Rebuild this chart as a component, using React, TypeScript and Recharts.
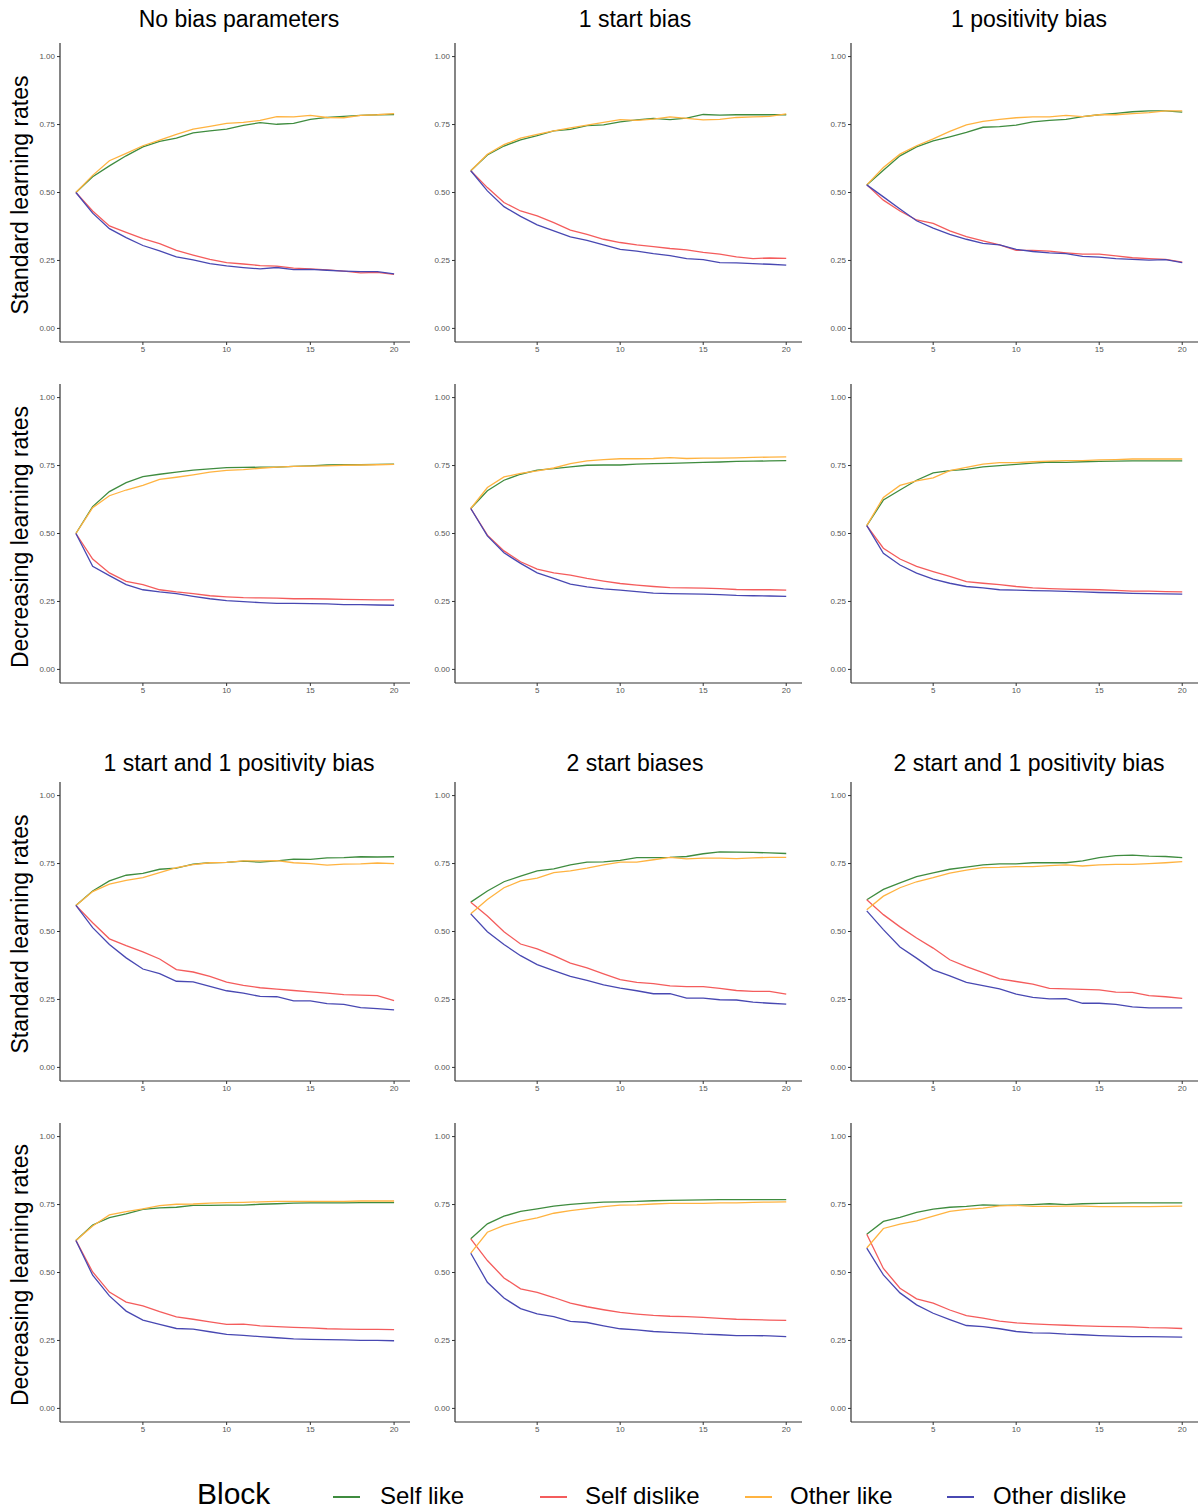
import React from "react";
import { LineChart, Line, XAxis, YAxis } from "recharts";

const blocks = [1, 2, 3, 4, 5, 6, 7, 8, 9, 10, 11, 12, 13, 14, 15, 16, 17, 18, 19, 20];
const seriesNames = ["Self like", "Self dislike", "Other like", "Other dislike"];
const seriesKeys = ["selfLike", "selfDislike", "otherLike", "otherDislike"];
const seriesColors = ["#3f8c3f", "#f45c5c", "#ffb340", "#4848b2"];
const xTicks = [5, 10, 15, 20];
const yTicks = [0, 0.25, 0.5, 0.75, 1];
const topTitles = ["No bias parameters", "1 start bias", "1 positivity bias"];
const bottomTitles = ["1 start and 1 positivity bias", "2 start biases", "2 start and 1 positivity bias"];
const rowLabels = ["Standard learning rates", "Decreasing learning rates", "Standard learning rates", "Decreasing learning rates"];

// No bias parameters, standard
const nbStdSelfLike = [0.5, 0.558, 0.598, 0.635, 0.668, 0.688, 0.7, 0.719, 0.727, 0.733, 0.747, 0.757, 0.751, 0.754, 0.769, 0.776, 0.78, 0.784, 0.786, 0.787];
const nbStdSelfDislike = [0.5, 0.432, 0.377, 0.353, 0.33, 0.312, 0.287, 0.27, 0.254, 0.242, 0.237, 0.231, 0.229, 0.222, 0.219, 0.215, 0.211, 0.204, 0.206, 0.199];
const nbStdOtherLike = [0.5, 0.563, 0.617, 0.644, 0.672, 0.693, 0.714, 0.733, 0.743, 0.754, 0.758, 0.765, 0.779, 0.778, 0.784, 0.776, 0.775, 0.784, 0.786, 0.79];
const nbStdOtherDislike = [0.5, 0.424, 0.367, 0.334, 0.305, 0.285, 0.263, 0.252, 0.238, 0.23, 0.224, 0.219, 0.224, 0.216, 0.217, 0.214, 0.211, 0.209, 0.209, 0.201];

// 1 start bias, standard
const sbStdSelfLike = [0.58, 0.638, 0.671, 0.694, 0.709, 0.727, 0.732, 0.746, 0.749, 0.76, 0.767, 0.773, 0.768, 0.774, 0.787, 0.785, 0.786, 0.786, 0.786, 0.786];
const sbStdSelfDislike = [0.58, 0.518, 0.463, 0.432, 0.414, 0.389, 0.362, 0.346, 0.328, 0.316, 0.307, 0.301, 0.294, 0.289, 0.28, 0.273, 0.263, 0.257, 0.259, 0.258];
const sbStdOtherLike = [0.58, 0.641, 0.676, 0.7, 0.714, 0.727, 0.738, 0.748, 0.758, 0.768, 0.765, 0.77, 0.778, 0.773, 0.767, 0.769, 0.776, 0.778, 0.78, 0.789];
const sbStdOtherDislike = [0.58, 0.506, 0.448, 0.412, 0.381, 0.359, 0.337, 0.324, 0.307, 0.291, 0.284, 0.275, 0.268, 0.257, 0.253, 0.242, 0.241, 0.238, 0.236, 0.233];

// 1 positivity bias, standard
const pbStdSelfLike = [0.528, 0.582, 0.635, 0.668, 0.69, 0.705, 0.721, 0.74, 0.742, 0.748, 0.76, 0.765, 0.769, 0.779, 0.786, 0.791, 0.797, 0.8, 0.8, 0.796];
const pbStdSelfDislike = [0.528, 0.472, 0.432, 0.399, 0.386, 0.359, 0.338, 0.322, 0.307, 0.287, 0.287, 0.284, 0.278, 0.273, 0.273, 0.267, 0.26, 0.257, 0.254, 0.244];
const pbStdOtherLike = [0.528, 0.592, 0.641, 0.672, 0.697, 0.725, 0.749, 0.762, 0.769, 0.775, 0.778, 0.778, 0.784, 0.779, 0.786, 0.786, 0.79, 0.794, 0.8, 0.8];
const pbStdOtherDislike = [0.528, 0.484, 0.439, 0.396, 0.369, 0.346, 0.328, 0.313, 0.307, 0.291, 0.283, 0.278, 0.275, 0.265, 0.262, 0.257, 0.254, 0.251, 0.253, 0.242];

// No bias parameters, decreasing
const nbDecSelfLike = [0.5, 0.599, 0.654, 0.687, 0.709, 0.718, 0.726, 0.733, 0.738, 0.742, 0.743, 0.744, 0.744, 0.747, 0.749, 0.752, 0.753, 0.753, 0.754, 0.755];
const nbDecSelfDislike = [0.5, 0.406, 0.355, 0.324, 0.312, 0.293, 0.285, 0.279, 0.271, 0.267, 0.264, 0.263, 0.262, 0.26, 0.26, 0.259, 0.258, 0.257, 0.256, 0.256];
const nbDecOtherLike = [0.5, 0.595, 0.639, 0.66, 0.677, 0.699, 0.707, 0.716, 0.726, 0.732, 0.735, 0.74, 0.744, 0.747, 0.748, 0.749, 0.751, 0.752, 0.753, 0.754];
const nbDecOtherDislike = [0.5, 0.379, 0.345, 0.312, 0.293, 0.285, 0.279, 0.269, 0.26, 0.253, 0.249, 0.246, 0.243, 0.243, 0.242, 0.241, 0.238, 0.238, 0.237, 0.236];

// 1 start bias, decreasing
const sbDecSelfLike = [0.592, 0.657, 0.696, 0.718, 0.733, 0.739, 0.745, 0.751, 0.752, 0.752, 0.755, 0.757, 0.758, 0.76, 0.762, 0.763, 0.765, 0.766, 0.767, 0.768];
const sbDecSelfDislike = [0.592, 0.494, 0.436, 0.396, 0.369, 0.355, 0.347, 0.335, 0.325, 0.316, 0.31, 0.305, 0.301, 0.3, 0.299, 0.297, 0.294, 0.293, 0.293, 0.292];
const sbDecOtherLike = [0.592, 0.669, 0.708, 0.721, 0.73, 0.741, 0.757, 0.767, 0.772, 0.775, 0.775, 0.776, 0.779, 0.776, 0.777, 0.777, 0.778, 0.78, 0.781, 0.782];
const sbDecOtherDislike = [0.592, 0.491, 0.429, 0.39, 0.355, 0.335, 0.314, 0.304, 0.296, 0.292, 0.286, 0.281, 0.279, 0.278, 0.277, 0.275, 0.272, 0.271, 0.27, 0.269];

// 1 positivity bias, decreasing
const pbDecSelfLike = [0.529, 0.623, 0.66, 0.696, 0.723, 0.731, 0.736, 0.745, 0.75, 0.754, 0.759, 0.763, 0.762, 0.764, 0.765, 0.766, 0.767, 0.767, 0.767, 0.767];
const pbDecSelfDislike = [0.529, 0.446, 0.406, 0.379, 0.36, 0.342, 0.323, 0.317, 0.312, 0.305, 0.3, 0.297, 0.295, 0.294, 0.293, 0.291, 0.288, 0.288, 0.286, 0.285];
const pbDecOtherLike = [0.529, 0.633, 0.677, 0.694, 0.705, 0.731, 0.743, 0.755, 0.761, 0.761, 0.764, 0.766, 0.768, 0.768, 0.771, 0.772, 0.774, 0.774, 0.774, 0.774];
const pbDecOtherDislike = [0.529, 0.427, 0.384, 0.354, 0.332, 0.317, 0.305, 0.3, 0.293, 0.292, 0.29, 0.289, 0.287, 0.285, 0.283, 0.282, 0.28, 0.279, 0.278, 0.277];

// 1 start and 1 positivity bias, standard
const spStdSelfLike = [0.596, 0.649, 0.686, 0.707, 0.714, 0.729, 0.733, 0.748, 0.753, 0.754, 0.759, 0.755, 0.76, 0.766, 0.765, 0.771, 0.772, 0.775, 0.774, 0.775];
const spStdSelfDislike = [0.596, 0.532, 0.473, 0.448, 0.425, 0.399, 0.36, 0.351, 0.335, 0.314, 0.302, 0.293, 0.288, 0.283, 0.278, 0.273, 0.268, 0.266, 0.264, 0.246];
const spStdOtherLike = [0.596, 0.647, 0.674, 0.688, 0.698, 0.717, 0.735, 0.746, 0.753, 0.754, 0.76, 0.76, 0.761, 0.753, 0.75, 0.744, 0.748, 0.749, 0.752, 0.75];
const spStdOtherDislike = [0.596, 0.514, 0.452, 0.403, 0.362, 0.345, 0.317, 0.315, 0.298, 0.282, 0.273, 0.261, 0.26, 0.245, 0.245, 0.235, 0.232, 0.22, 0.216, 0.212];

// 2 start biases, standard
const s2StdSelfLike = [0.608, 0.649, 0.683, 0.704, 0.723, 0.73, 0.745, 0.755, 0.756, 0.762, 0.772, 0.772, 0.773, 0.776, 0.786, 0.793, 0.792, 0.791, 0.789, 0.787];
const s2StdSelfDislike = [0.608, 0.557, 0.499, 0.454, 0.436, 0.411, 0.384, 0.366, 0.344, 0.323, 0.313, 0.308, 0.3, 0.297, 0.297, 0.291, 0.283, 0.28, 0.28, 0.27];
const s2StdOtherLike = [0.565, 0.618, 0.661, 0.686, 0.696, 0.717, 0.723, 0.733, 0.745, 0.755, 0.755, 0.764, 0.773, 0.767, 0.77, 0.77, 0.768, 0.771, 0.773, 0.773];
const s2StdOtherDislike = [0.565, 0.499, 0.452, 0.411, 0.378, 0.356, 0.335, 0.32, 0.304, 0.292, 0.282, 0.271, 0.271, 0.255, 0.255, 0.249, 0.248, 0.24, 0.236, 0.233];

// 2 start and 1 positivity bias, standard
const s2pStdSelfLike = [0.617, 0.655, 0.679, 0.702, 0.716, 0.729, 0.737, 0.745, 0.749, 0.749, 0.753, 0.753, 0.753, 0.76, 0.772, 0.779, 0.781, 0.777, 0.776, 0.772];
const s2pStdSelfDislike = [0.617, 0.562, 0.517, 0.476, 0.439, 0.396, 0.371, 0.349, 0.326, 0.316, 0.306, 0.291, 0.289, 0.287, 0.285, 0.277, 0.276, 0.264, 0.26, 0.254];
const s2pStdOtherLike = [0.58, 0.63, 0.661, 0.683, 0.698, 0.715, 0.726, 0.735, 0.736, 0.739, 0.739, 0.742, 0.745, 0.741, 0.745, 0.747, 0.747, 0.75, 0.753, 0.757];
const s2pStdOtherDislike = [0.576, 0.507, 0.443, 0.402, 0.359, 0.337, 0.313, 0.301, 0.289, 0.27, 0.258, 0.252, 0.253, 0.236, 0.236, 0.232, 0.223, 0.219, 0.219, 0.219];

// 1 start and 1 positivity bias, decreasing
const spDecSelfLike = [0.618, 0.675, 0.702, 0.716, 0.732, 0.738, 0.74, 0.747, 0.747, 0.748, 0.748, 0.751, 0.753, 0.755, 0.756, 0.756, 0.756, 0.757, 0.757, 0.757];
const spDecSelfDislike = [0.618, 0.502, 0.428, 0.391, 0.377, 0.356, 0.337, 0.328, 0.318, 0.309, 0.31, 0.304, 0.301, 0.298, 0.296, 0.293, 0.292, 0.291, 0.291, 0.29];
const spDecOtherLike = [0.618, 0.671, 0.712, 0.724, 0.734, 0.746, 0.751, 0.752, 0.755, 0.757, 0.758, 0.76, 0.762, 0.762, 0.762, 0.762, 0.762, 0.763, 0.763, 0.763];
const spDecOtherDislike = [0.618, 0.49, 0.414, 0.358, 0.325, 0.309, 0.294, 0.292, 0.282, 0.272, 0.269, 0.264, 0.26, 0.256, 0.254, 0.253, 0.252, 0.25, 0.25, 0.249];

// 2 start biases, decreasing
const s2DecSelfLike = [0.624, 0.679, 0.707, 0.725, 0.734, 0.744, 0.751, 0.755, 0.759, 0.76, 0.762, 0.764, 0.765, 0.766, 0.767, 0.768, 0.768, 0.768, 0.768, 0.768];
const s2DecSelfDislike = [0.624, 0.544, 0.48, 0.44, 0.427, 0.408, 0.387, 0.374, 0.363, 0.353, 0.347, 0.342, 0.339, 0.338, 0.335, 0.331, 0.328, 0.327, 0.325, 0.324];
const s2DecOtherLike = [0.571, 0.648, 0.673, 0.689, 0.701, 0.718, 0.728, 0.735, 0.742, 0.748, 0.749, 0.752, 0.754, 0.754, 0.754, 0.756, 0.756, 0.758, 0.759, 0.76];
const s2DecOtherDislike = [0.571, 0.464, 0.406, 0.367, 0.348, 0.338, 0.32, 0.316, 0.304, 0.293, 0.289, 0.283, 0.28, 0.277, 0.273, 0.271, 0.268, 0.268, 0.267, 0.264];

// 2 start and 1 positivity bias, decreasing
const s2pDecSelfLike = [0.641, 0.688, 0.703, 0.721, 0.733, 0.74, 0.743, 0.749, 0.747, 0.748, 0.75, 0.753, 0.75, 0.753, 0.754, 0.755, 0.756, 0.756, 0.756, 0.756];
const s2pDecSelfDislike = [0.641, 0.515, 0.442, 0.403, 0.387, 0.362, 0.341, 0.332, 0.321, 0.315, 0.311, 0.308, 0.306, 0.304, 0.302, 0.301, 0.3, 0.297, 0.296, 0.294];
const s2pDecOtherLike = [0.59, 0.662, 0.678, 0.69, 0.707, 0.725, 0.732, 0.737, 0.745, 0.747, 0.743, 0.743, 0.744, 0.744, 0.742, 0.742, 0.742, 0.742, 0.743, 0.744];
const s2pDecOtherDislike = [0.59, 0.491, 0.425, 0.381, 0.35, 0.327, 0.305, 0.301, 0.293, 0.283, 0.278, 0.277, 0.273, 0.271, 0.268, 0.266, 0.264, 0.264, 0.263, 0.262];

// panel grid: rows top to bottom, columns left to right
const panelSeries = [
  [nbStdSelfLike, nbStdSelfDislike, nbStdOtherLike, nbStdOtherDislike],
  [sbStdSelfLike, sbStdSelfDislike, sbStdOtherLike, sbStdOtherDislike],
  [pbStdSelfLike, pbStdSelfDislike, pbStdOtherLike, pbStdOtherDislike],
  [nbDecSelfLike, nbDecSelfDislike, nbDecOtherLike, nbDecOtherDislike],
  [sbDecSelfLike, sbDecSelfDislike, sbDecOtherLike, sbDecOtherDislike],
  [pbDecSelfLike, pbDecSelfDislike, pbDecOtherLike, pbDecOtherDislike],
  [spStdSelfLike, spStdSelfDislike, spStdOtherLike, spStdOtherDislike],
  [s2StdSelfLike, s2StdSelfDislike, s2StdOtherLike, s2StdOtherDislike],
  [s2pStdSelfLike, s2pStdSelfDislike, s2pStdOtherLike, s2pStdOtherDislike],
  [spDecSelfLike, spDecSelfDislike, spDecOtherLike, spDecOtherDislike],
  [s2DecSelfLike, s2DecSelfDislike, s2DecOtherLike, s2DecOtherDislike],
  [s2pDecSelfLike, s2pDecSelfDislike, s2pDecOtherLike, s2pDecOtherDislike],
];

const FONT = "'Liberation Sans', Arial, Helvetica, sans-serif";
const colLeft = [60, 455, 851];
const colWidth = [350, 347, 347];
const rowTop = [43, 384, 782, 1123];
const plotH = 299;
const yAxisW = 40;
const mTop = 5;
const mRight = 5;
const xAxisH = 20;
const titleCx = [239, 635, 1029];
const titleCy = [19, 763];
const labelCy = [195, 537, 934, 1275];
const legendLineX = [333, 540, 745, 947];
const legendTextX = [380, 585, 790, 993];

function Panel({ series, row, col }: { series: number[][]; row: number; col: number }) {
  const data = blocks.map((b, i) => {
    const d: Record<string, number> = { block: b };
    seriesKeys.forEach((k, s) => (d[k] = series[s][i]));
    return d;
  });
  const tick = { fontSize: 8, fill: "#555", fontFamily: FONT };
  return (
    <div
      style={{
        position: "absolute",
        left: colLeft[col] - yAxisW,
        top: rowTop[row] - mTop,
      }}
    >
      <LineChart
        width={yAxisW + colWidth[col] + mRight}
        height={mTop + plotH + xAxisH}
        data={data}
        margin={{ top: mTop, right: mRight, left: 0, bottom: 0 }}
      >
        <XAxis
          type="number"
          dataKey="block"
          domain={[0.05, 20.95]}
          allowDataOverflow
          ticks={xTicks}
          height={xAxisH}
          tick={tick}
          tickSize={3}
          tickMargin={1}
          axisLine={{ stroke: "#333", strokeWidth: 1.2 }}
          tickLine={{ stroke: "#333" }}
        />
        <YAxis
          type="number"
          domain={[-0.05, 1.05]}
          allowDataOverflow
          ticks={yTicks}
          width={yAxisW}
          tick={tick}
          tickSize={3}
          tickMargin={2}
          tickFormatter={(v: number) => v.toFixed(2)}
          axisLine={{ stroke: "#333", strokeWidth: 1.2 }}
          tickLine={{ stroke: "#333" }}
        />
        {seriesKeys.map((k, s) => (
          <Line
            key={k}
            type="linear"
            dataKey={k}
            stroke={seriesColors[s]}
            strokeWidth={1.3}
            dot={false}
            activeDot={false}
            isAnimationActive={false}
          />
        ))}
      </LineChart>
    </div>
  );
}

export default function App() {
  return (
    <div
      style={{
        position: "absolute",
        left: 0,
        top: 0,
        width: 1198,
        height: 1511,
        overflow: "hidden",
        background: "#fff",
        fontFamily: FONT,
        color: "#000",
      }}
    >
      {panelSeries.map((series, i) => (
        <Panel key={i} series={series} row={Math.floor(i / 3)} col={i % 3} />
      ))}

      {[topTitles, bottomTitles].map((titles, g) =>
        titles.map((t, c) => (
          <div
            key={`t${g}${c}`}
            style={{
              position: "absolute",
              left: titleCx[c],
              top: titleCy[g],
              transform: "translate(-50%, -50%)",
              fontSize: 23,
              lineHeight: 1,
              whiteSpace: "nowrap",
            }}
          >
            {t}
          </div>
        ))
      )}

      {rowLabels.map((t, r) => (
        <div
          key={`r${r}`}
          style={{
            position: "absolute",
            left: 20,
            top: labelCy[r],
            transform: "translate(-50%, -50%) rotate(-90deg)",
            fontSize: 23,
            lineHeight: 1,
            whiteSpace: "nowrap",
          }}
        >
          {t}
        </div>
      ))}

      <div
        style={{
          position: "absolute",
          left: 197,
          top: 1494,
          transform: "translateY(-50%)",
          fontSize: 30,
          lineHeight: 1,
        }}
      >
        Block
      </div>
      {seriesNames.map((name, s) => (
        <React.Fragment key={name}>
          <div
            style={{
              position: "absolute",
              left: legendLineX[s],
              top: 1496,
              width: 27,
              height: 2,
              background: seriesColors[s],
            }}
          />
          <div
            style={{
              position: "absolute",
              left: legendTextX[s],
              top: 1496,
              transform: "translateY(-50%)",
              fontSize: 24,
              lineHeight: 1,
              whiteSpace: "nowrap",
            }}
          >
            {name}
          </div>
        </React.Fragment>
      ))}
    </div>
  );
}
